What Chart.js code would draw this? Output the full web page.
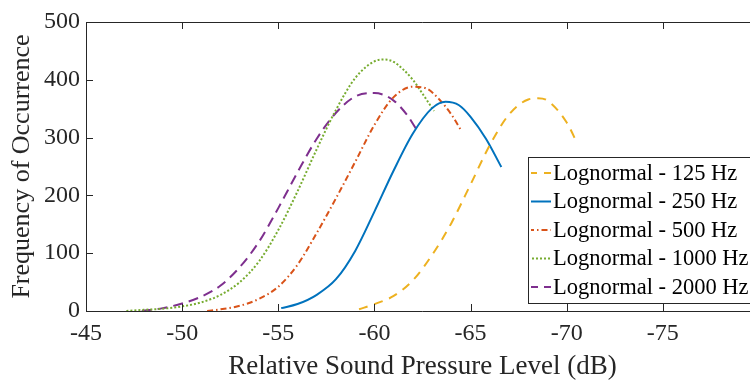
<!DOCTYPE html>
<html>
<head>
<meta charset="utf-8">
<script src="https://cdn.jsdelivr.net/npm/chart.js@4.4.1/dist/chart.umd.min.js"></script>
<style>
  body { margin: 0; overflow: hidden; background: #fff; }
  #wrap { width: 800px; height: 381px; }
</style>
</head>
<body>
<div id="wrap"><canvas id="lognChart"></canvas></div>
<script>
// valeurs (dB, frequence)
var x125 = [-59.2, -60, -61, -62, -63, -64, -65, -66, -67, -68, -68.5, -69, -70, -70.55];
var y125 = [3, 12, 26, 53, 97, 152, 219, 287, 340, 366, 368, 364, 326, 290];

var x250 = [-55.15, -56, -57, -58, -59, -60, -61, -62, -63, -63.7, -64.4, -65, -65.8, -66.6];
var y250 = [5, 12, 28, 55, 104, 172, 243, 307, 351, 362, 356, 336, 298, 249];

var x500 = [-51.3, -52, -53, -54, -55, -56, -57, -58, -59, -60, -61, -62, -62.7, -63.4, -64, -64.5];
var y500 = [0, 3, 9, 21, 42, 80, 135, 195, 258, 322, 370, 388, 385, 365, 340, 313];

var x1000 = [-47.1, -48, -49, -50, -51, -52, -53, -54, -55, -56, -57, -58, -59, -60, -60.5, -61, -62, -62.5, -63.1];
var y1000 = [0, 2, 4, 8, 15, 28, 50, 86, 140, 207, 280, 348, 403, 432, 435, 431, 400, 376, 346];

var x2000 = [-47.9, -49, -50, -51, -52, -53, -54, -55, -56, -57, -58, -59, -60, -61, -61.7, -62.15];
var y2000 = [0, 5, 13, 25, 44, 76, 120, 178, 240, 298, 343, 371, 377, 364, 339, 316];

var seriesLabels = ['Lognormal - 125 Hz', 'Lognormal - 250 Hz', 'Lognormal - 500 Hz',
                    'Lognormal - 1000 Hz', 'Lognormal - 2000 Hz'];
var xTicks = [-75, -70, -65, -60, -55, -50, -45];
var yTicks = [0, 100, 200, 300, 400, 500];

var axisColor = '#262626';

function pts(xs, ys) {
  return xs.map(function (x, i) { return { x: x, y: ys[i] }; });
}

function serie(label, xs, ys, color, dash) {
  return {
    label: label,
    data: pts(xs, ys),
    borderColor: color,
    borderWidth: 2,
    borderDash: dash,
    pointRadius: 0,
    cubicInterpolationMode: 'monotone',
    fill: false
  };
}

var data = {
  datasets: [
    serie(seriesLabels[0], x125, y125, '#EDB120', [9, 7]),
    serie(seriesLabels[1], x250, y250, '#0072BD', []),
    serie(seriesLabels[2], x500, y500, '#D95319', [6, 3, 1.5, 3]),
    serie(seriesLabels[3], x1000, y1000, '#77AC30', [2, 2]),
    serie(seriesLabels[4], x2000, y2000, '#7E2F8E', [10, 6])
  ]
};

// cadre + petits traits vers l'interieur, comme matlab
var boxPlugin = {
  id: 'boxPlugin',
  afterDatasetsDraw: function (chart) {
    var ctx = chart.ctx, a = chart.chartArea;
    var xs = chart.scales.x, ys = chart.scales.y;
    var right = Math.min(a.right, chart.width);
    ctx.save();
    ctx.strokeStyle = axisColor;
    ctx.lineWidth = 1;
    ctx.setLineDash([]);
    ctx.beginPath();
    ctx.moveTo(right, a.top + 0.5);
    ctx.lineTo(a.left + 0.5, a.top + 0.5);
    ctx.lineTo(a.left + 0.5, a.bottom + 0.5);
    ctx.lineTo(right, a.bottom + 0.5);
    xs.ticks.forEach(function (t) {
      var px = Math.round(xs.getPixelForValue(t.value)) + 0.5;
      ctx.moveTo(px, a.bottom);
      ctx.lineTo(px, a.bottom - 7);
      ctx.moveTo(px, a.top);
      ctx.lineTo(px, a.top + 7);
    });
    ys.ticks.forEach(function (t) {
      var py = Math.round(ys.getPixelForValue(t.value)) + 0.5;
      ctx.moveTo(a.left, py);
      ctx.lineTo(a.left + 7, py);
    });
    ctx.stroke();
    ctx.restore();
  }
};

// legende dessinee a la main (boite a droite)
var legendPlugin = {
  id: 'legendPlugin',
  afterDraw: function (chart) {
    var ctx = chart.ctx;
    var bx = 528.5, by = 157.5, bw = 300, bh = 146;
    var rowH = 28.5, first = 173;
    ctx.save();
    ctx.fillStyle = '#ffffff';
    ctx.fillRect(bx, by, bw, bh);
    ctx.strokeStyle = axisColor;
    ctx.lineWidth = 1;
    ctx.setLineDash([]);
    ctx.strokeRect(bx, by, bw, bh);
    ctx.font = '22.5px "Liberation Serif"';
    ctx.textBaseline = 'middle';
    ctx.fillStyle = '#000000';
    chart.data.datasets.forEach(function (ds, i) {
      var y = first + i * rowH;
      ctx.beginPath();
      ctx.strokeStyle = ds.borderColor;
      ctx.lineWidth = 2;
      ctx.setLineDash(ds.borderDash);
      ctx.lineDashOffset = ds.borderDash.length ? 3 : 0;
      ctx.moveTo(531, y);
      ctx.lineTo(551, y);
      ctx.stroke();
      ctx.setLineDash([]);
      ctx.fillText(ds.label, 553, y + 1);
    });
    ctx.restore();
  }
};

Chart.defaults.font.family = '"Liberation Serif", "Times New Roman", serif';
Chart.defaults.color = axisColor;

var options = {
  responsive: true,
  maintainAspectRatio: false,
  animation: false,
  layout: { padding: { top: 22, right: 41, left: 0, bottom: 0 } },
  plugins: {
    legend: { display: false },
    tooltip: { enabled: false }
  },
  scales: {
    x: {
      type: 'linear',
      reverse: true,
      min: -80,
      max: -45,
      afterBuildTicks: function (scale) {
        scale.ticks = xTicks.map(function (v) { return { value: v }; });
      },
      ticks: {
        autoSkip: false,
        maxRotation: 0,
        padding: 8,
        font: { size: 24 },
        callback: function (v) { return String(v); }
      },
      grid: { display: false, drawTicks: false },
      border: { display: false },
      title: {
        display: true,
        text: 'Relative Sound Pressure Level (dB)',
        font: { size: 27 },
        padding: { top: 0, bottom: -2 }
      },
      afterFit: function (scale) { scale.height = 70; }
    },
    y: {
      min: 0,
      max: 500,
      afterBuildTicks: function (scale) {
        scale.ticks = yTicks.map(function (v) { return { value: v }; });
      },
      ticks: {
        padding: 6,
        font: { size: 24 },
        callback: function (v) { return String(v); }
      },
      grid: { display: false, drawTicks: false },
      border: { display: false },
      title: {
        display: true,
        text: 'Frequency of Occurrence',
        font: { size: 26 },
        padding: { top: 7, bottom: 0 }
      },
      afterFit: function (scale) { scale.width = 86; }
    }
  }
};

var myChart = new Chart(document.getElementById('lognChart'), {
  type: 'line',
  data: data,
  options: options,
  plugins: [boxPlugin, legendPlugin]
});
</script>
</body>
</html>
